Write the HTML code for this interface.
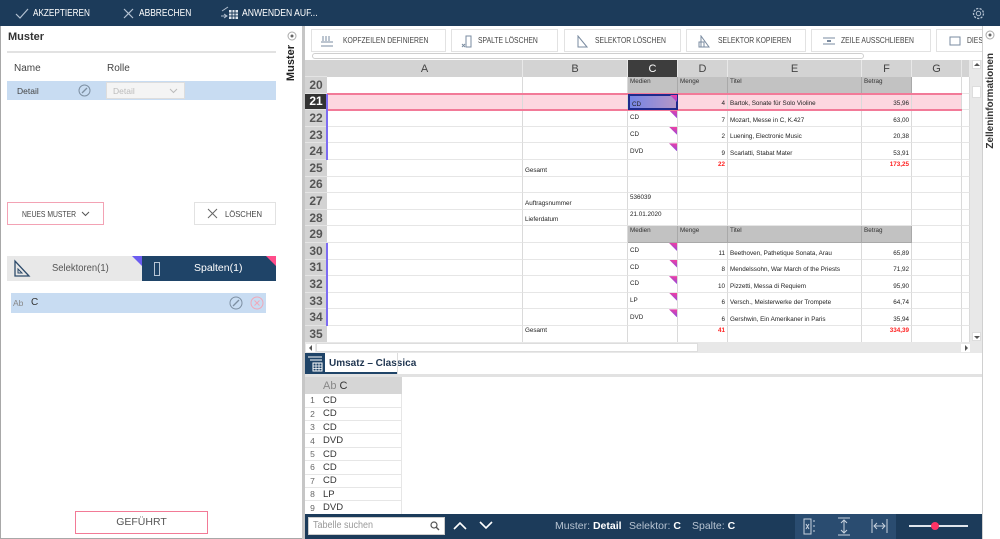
<!DOCTYPE html>
<html><head><meta charset="utf-8">
<style>
*{margin:0;padding:0;box-sizing:border-box}
body{width:1000px;height:539px;position:relative;overflow:hidden;background:#fff;font-family:"Liberation Sans",sans-serif;color:#333}
.a{position:absolute}
.sx{display:inline-block;transform-origin:0 50%;white-space:nowrap}
.tb{position:absolute;top:29px;height:23px;border:1px solid #e2e2e2;background:#fff;font-size:8px;color:#444;white-space:nowrap}
.tb span{position:absolute;top:6px;transform:scaleX(.85);transform-origin:0 50%}
.tb svg{position:absolute;top:5px}
.g{position:absolute;left:305px;top:60px;width:665px;height:282.6px;overflow:hidden;display:grid;grid-template-columns:22px 196px 105px 50px 50px 134px 50px 50px 8px;grid-template-rows:17px repeat(16,16.6px);background:#fff}
.g i{font-style:normal;position:relative;border-right:1px solid #dadada;border-bottom:1px solid #e6e6e6;font-size:6.3px;color:#222;padding:0 2px 2px 2px;display:flex;align-items:flex-end;overflow:hidden;white-space:nowrap}
.g i.n{background:#d3d3d3;font-size:12px;font-weight:bold;color:#555;justify-content:center;align-items:center;padding:0;border-right:none;border-bottom:1px solid #e4e4e4}
.g i.nd{background:#333;color:#fff}
.g i.h{background:#d3d3d3;font-size:11px;color:#444;justify-content:center;align-items:center;padding:0;border-right:1px solid #e8e8e8;border-bottom:none}
.g i.hc{background:#3d3d3d;color:#fff}
.g i.gh{background:#c2c2c2;align-items:flex-start;padding-top:1px;border-right:1px solid #a9a9a9;border-bottom:1px solid #a9a9a9;color:#333}
.g i.r{justify-content:flex-end}
.g i.m{align-items:center;padding-bottom:0}
.g i.t{align-items:flex-start;padding-top:1px}
.g i.red{color:#f22;font-weight:bold}
.g i.p{background:#fdd7e0}
.g i.tr::after{content:"";position:absolute;right:0;top:0;width:8px;height:8px;background:linear-gradient(200deg,#ff3d9a,#6b4ff2);clip-path:polygon(0 0,100% 0,100% 100%)}
.lt{position:absolute;left:305px;top:377px;width:97px;display:grid;grid-template-columns:15px 82px;grid-template-rows:17.3px repeat(9,13.4px)}
.lt i{font-style:normal;border-bottom:1px solid #e6e6e6;font-size:9.5px;color:#333;display:flex;align-items:center;padding-left:3px;border-right:1px solid #e6e6e6}
.lt i.x{justify-content:center;padding:0;color:#666;font-size:8.5px;border-right:none}
.lt i.hd{background:#d6d6d6;border:none}
</style></head><body>

<!-- top bar -->
<div class="a" style="left:0;top:0;width:1000px;height:26px;background:#1c3b5a"></div>
<svg class="a" style="left:15px;top:8px" width="14" height="11"><polyline points="1,6 5,10 13,1" fill="none" stroke="#b4c2d2" stroke-width="1.2"/></svg>
<div class="a" style="left:33px;top:7px;color:#fff;font-size:10.5px"><span class="sx" style="transform:scaleX(.78)">AKZEPTIEREN</span></div>
<svg class="a" style="left:123px;top:8px" width="11" height="11"><path d="M1,1L10,10M10,1L1,10" stroke="#b4c2d2" stroke-width="1.2"/></svg>
<div class="a" style="left:139px;top:7px;color:#fff;font-size:10.5px"><span class="sx" style="transform:scaleX(.8)">ABBRECHEN</span></div>
<svg class="a" style="left:220px;top:6px" width="20" height="14"><path d="M2,5L8,1M1,10h6M4,8l3,2l-3,2" fill="none" stroke="#b4c2d2" stroke-width="1"/><rect x="9" y="4" width="9" height="9" fill="#dfe6ee"/><path d="M9,7h9M9,10h9M12,4v9M15,4v9" stroke="#1c3b5a" stroke-width="1"/></svg>
<div class="a" style="left:242px;top:7px;color:#fff;font-size:10.5px"><span class="sx" style="transform:scaleX(.82)">ANWENDEN AUF...</span></div>
<svg class="a" style="left:971px;top:6px" width="15" height="15"><circle cx="7.5" cy="7.5" r="5" fill="none" stroke="#b4c2d2" stroke-width="1.3" stroke-dasharray="2.2 1.3"/><circle cx="7.5" cy="7.5" r="2.2" fill="none" stroke="#b4c2d2"/></svg>

<!-- frame borders -->
<div class="a" style="left:0;top:26px;width:1px;height:513px;background:#a8a8a8"></div>
<div class="a" style="left:0;top:538px;width:305px;height:1px;background:#a8a8a8"></div>
<div class="a" style="left:302px;top:26px;width:3px;height:513px;background:#c6c6c6"></div>

<!-- left panel -->
<div class="a" style="left:8px;top:31px;font-size:11px;font-weight:bold;color:#333">Muster</div>
<div class="a" style="left:7px;top:51px;width:269px;height:2px;background:#e2e2e2"></div>
<div class="a" style="left:14px;top:63px;font-size:10px;color:#444">Name</div>
<div class="a" style="left:107px;top:63px;font-size:10px;color:#444">Rolle</div>
<div class="a" style="left:7px;top:81px;width:269px;height:19px;background:#c8dcf2"></div>
<div class="a" style="left:17px;top:86px;font-size:8.5px;color:#444">Detail</div>
<svg class="a" style="left:78px;top:84px" width="13" height="13"><circle cx="6.5" cy="6.5" r="5.5" fill="none" stroke="#7d8fa2"/><path d="M4,9L9,4" stroke="#7d8fa2" stroke-width="1.3"/></svg>
<div class="a" style="left:106px;top:82px;width:79px;height:17px;background:#f4f4f4;border:1px solid #ddd"></div>
<div class="a" style="left:113px;top:86px;font-size:8.5px;color:#bbb">Detail</div>
<svg class="a" style="left:169px;top:88px" width="9" height="6"><polyline points="1,1 4.5,4.5 8,1" fill="none" stroke="#bbb"/></svg>

<div class="a" style="left:7px;top:202px;width:97px;height:23px;border:1px solid #f3a2b4"></div>
<div class="a" style="left:22px;top:209px;font-size:8.5px;color:#444"><span class="sx" style="transform:scaleX(.8)">NEUES MUSTER</span></div>
<svg class="a" style="left:81px;top:211px" width="9" height="6"><polyline points="1,1 4.5,4.5 8,1" fill="none" stroke="#555"/></svg>
<div class="a" style="left:194px;top:202px;width:82px;height:23px;border:1px solid #e2e2e2"></div>
<svg class="a" style="left:207px;top:208px" width="11" height="11"><path d="M1,1L10,10M10,1L1,10" stroke="#666" stroke-width="1"/></svg>
<div class="a" style="left:225px;top:209px;font-size:8.5px;color:#444"><span class="sx" style="transform:scaleX(.9)">LÖSCHEN</span></div>

<div class="a" style="left:7px;top:256px;width:135px;height:25px;background:#e8e8e8"></div>
<svg class="a" style="left:13px;top:259px" width="18" height="19"><path d="M2,2L2,17L16,17Z" fill="none" stroke="#2c4a6a" stroke-width="1.3"/><path d="M5,10L5,14L9,14Z" fill="none" stroke="#2c4a6a"/></svg>
<div class="a" style="left:52px;top:262px;font-size:10.5px;color:#555"><span class="sx" style="transform:scaleX(.9)">Selektoren(1)</span></div>
<div class="a" style="left:132px;top:256px;width:10px;height:10px;background:#6b5cf0;clip-path:polygon(0 0,100% 0,100% 100%)"></div>
<div class="a" style="left:142px;top:256px;width:134px;height:25px;background:#1f4468"></div>
<div class="a" style="left:154px;top:262px;width:6px;height:14px;border:1px solid #b8c6d6"></div>
<div class="a" style="left:194px;top:262px;font-size:10.5px;color:#fff">Spalten(1)</div>
<div class="a" style="left:266px;top:256px;width:10px;height:10px;background:#ff4d8a;clip-path:polygon(0 0,100% 0,100% 100%)"></div>

<div class="a" style="left:11px;top:293px;width:255px;height:20px;background:#c8dcf2"></div>
<div class="a" style="left:13px;top:298px;font-size:8.5px;color:#888">Ab</div>
<div class="a" style="left:31px;top:297px;font-size:10px;color:#333">C</div>
<svg class="a" style="left:229px;top:296px" width="14" height="14"><circle cx="7" cy="7" r="6" fill="none" stroke="#7d8fa2"/><path d="M4,10L10,4" stroke="#7d8fa2" stroke-width="1.3"/></svg>
<svg class="a" style="left:250px;top:296px" width="14" height="14"><circle cx="7" cy="7" r="6" fill="none" stroke="#f0a8b8"/><path d="M4.5,4.5L9.5,9.5M9.5,4.5L4.5,9.5" stroke="#f0a8b8"/></svg>

<div class="a" style="left:75px;top:511px;width:133px;height:23px;border:1px solid #f27a96"></div>
<div class="a" style="left:75px;top:516px;width:133px;text-align:center;font-size:10.5px;color:#555">GEFÜHRT</div>

<!-- Muster vertical strip -->
<svg class="a" style="left:287px;top:31px" width="10" height="10"><circle cx="5" cy="5" r="4" fill="none" stroke="#aaa"/><circle cx="5" cy="5" r="1.5" fill="#666"/></svg>
<div class="a" style="left:285px;top:45px;writing-mode:vertical-rl;transform:rotate(180deg);font-size:11px;font-weight:bold;color:#222">Muster</div>

<!-- right strip -->
<div class="a" style="left:982px;top:26px;width:1px;height:513px;background:#d0d0d0"></div>
<svg class="a" style="left:985px;top:30px" width="10" height="10"><circle cx="5" cy="5" r="4" fill="none" stroke="#aaa"/><circle cx="5" cy="5" r="1.5" fill="#666"/></svg>
<div class="a" style="left:985px;top:53px;writing-mode:vertical-rl;transform:rotate(180deg);font-size:10px;font-weight:bold;color:#333">Zelleninformationen</div>

<!-- toolbar -->
<div class="tb" style="left:311px;width:135px"><svg style="left:9px" width="12" height="12"><path d="M2,1v5M5,1v5M8,1v5M0,7h12M0,11h12" stroke="#7a8ba0"/></svg><span style="left:31px">KOPFZEILEN DEFINIEREN</span></div>
<div class="tb" style="left:451px;width:107px"><svg style="left:9px" width="12" height="13"><rect x="5" y="1" width="5" height="11" fill="none" stroke="#7a8ba0"/><path d="M1,9l3,3M4,9l-3,3" stroke="#7a8ba0"/></svg><span style="left:26px">SPALTE LÖSCHEN</span></div>
<div class="tb" style="left:564px;width:117px"><svg style="left:11px" width="12" height="13"><path d="M2,1L2,12L11,12Z" fill="none" stroke="#7a8ba0"/></svg><span style="left:30px">SELEKTOR LÖSCHEN</span></div>
<div class="tb" style="left:686px;width:120px"><svg style="left:11px" width="13" height="13"><path d="M3,1L3,12L11,12Z" fill="none" stroke="#7a8ba0"/><rect x="1" y="7" width="5" height="5" fill="none" stroke="#7a8ba0"/></svg><span style="left:31px">SELEKTOR KOPIEREN</span></div>
<div class="tb" style="left:811px;width:120px"><svg style="left:11px" width="12" height="12"><path d="M0,3h12M0,9h12" stroke="#7a8ba0"/><path d="M4,6h4" stroke="#7a8ba0" stroke-width="2"/></svg><span style="left:29px">ZEILE AUSSCHLIEBEN</span></div>
<div class="tb" style="left:936px;width:46px;border-right:none;overflow:hidden"><svg style="left:12px" width="12" height="12"><rect x="1" y="2" width="10" height="8" fill="none" stroke="#7a8ba0"/></svg><span style="left:30px">DIESE</span></div>
<div class="a" style="left:312px;top:53px;width:552px;height:6px;border:1px solid #cfcfcf;border-radius:3px"></div>

<!-- grid -->
<div class="g">
<i class="n"></i><i class="h">A</i><i class="h">B</i><i class="h hc">C</i><i class="h">D</i><i class="h">E</i><i class="h">F</i><i class="h">G</i><i class="h"></i>
<i class="n">20</i><i></i><i></i><i class="gh">Medien</i><i class="gh">Menge</i><i class="gh">Titel</i><i class="gh">Betrag</i><i></i><i></i>
<i class="n nd">21</i><i class="p"></i><i class="p"></i><i class="p m tr">CD</i><i class="p r">4</i><i class="p">Bartok, Sonate für Solo Violine</i><i class="p r">35,96</i><i class="p"></i><i></i>
<i class="n">22</i><i></i><i></i><i class="m tr">CD</i><i class="r">7</i><i>Mozart, Messe in C, K.427</i><i class="r">63,00</i><i></i><i></i>
<i class="n">23</i><i></i><i></i><i class="m tr">CD</i><i class="r">2</i><i>Luening, Electronic Music</i><i class="r">20,38</i><i></i><i></i>
<i class="n">24</i><i></i><i></i><i class="m tr">DVD</i><i class="r">9</i><i>Scarlatti, Stabat Mater</i><i class="r">53,91</i><i></i><i></i>
<i class="n">25</i><i></i><i>Gesamt</i><i></i><i class="r t red">22</i><i></i><i class="r t red">173,25</i><i></i><i></i>
<i class="n">26</i><i></i><i></i><i></i><i></i><i></i><i></i><i></i><i></i>
<i class="n">27</i><i></i><i>Auftragsnummer</i><i class="t">536039</i><i></i><i></i><i></i><i></i><i></i>
<i class="n">28</i><i></i><i>Lieferdatum</i><i class="t">21.01.2020</i><i></i><i></i><i></i><i></i><i></i>
<i class="n">29</i><i></i><i></i><i class="gh">Medien</i><i class="gh">Menge</i><i class="gh">Titel</i><i class="gh">Betrag</i><i></i><i></i>
<i class="n">30</i><i></i><i></i><i class="m tr">CD</i><i class="r">11</i><i>Beethoven, Pathetique Sonata, Arau</i><i class="r">65,89</i><i></i><i></i>
<i class="n">31</i><i></i><i></i><i class="m tr">CD</i><i class="r">8</i><i>Mendelssohn, War March of the Priests</i><i class="r">71,92</i><i></i><i></i>
<i class="n">32</i><i></i><i></i><i class="m tr">CD</i><i class="r">10</i><i>Pizzetti, Messa di Requiem</i><i class="r">95,90</i><i></i><i></i>
<i class="n">33</i><i></i><i></i><i class="m tr">LP</i><i class="r">6</i><i>Versch., Meisterwerke der Trompete</i><i class="r">64,74</i><i></i><i></i>
<i class="n">34</i><i></i><i></i><i class="m tr">DVD</i><i class="r">6</i><i>Gershwin, Ein Amerikaner in Paris</i><i class="r">35,94</i><i></i><i></i>
<i class="n">35</i><i></i><i class="t">Gesamt</i><i></i><i class="r t red">41</i><i></i><i class="r t red">334,39</i><i></i><i></i>
</div>
<!-- selection overlays -->
<div class="a" style="left:327px;top:92.6px;width:635px;height:18px;border-top:2px solid #f27a98;border-bottom:2px solid #f27a98"></div>
<div class="a" style="left:628px;top:93.6px;width:50px;height:16.6px;background:linear-gradient(90deg,#7585e6,#b596c6);border:2px solid #1e2a8c;font-size:6.3px;color:#222;padding:5px 0 0 2px">CD</div>
<div class="a" style="left:670px;top:95px;width:7px;height:7px;background:linear-gradient(200deg,#ff3d9a,#6b4ff2);clip-path:polygon(0 0,100% 0,100% 100%)"></div>
<div class="a" style="left:326px;top:93.6px;width:2px;height:66.4px;background:#7c6cf2"></div>
<div class="a" style="left:326px;top:243px;width:2px;height:83px;background:#7c6cf2"></div>

<!-- scrollbars -->
<div class="a" style="left:970px;top:60px;width:12px;height:293px;background:#e8e8e8"></div>
<div class="a" style="left:972px;top:60px;width:9px;height:9px;background:#fff;border:1px solid #ddd"></div>
<svg class="a" style="left:974px;top:62px" width="6" height="5"><path d="M0,4L3,1L6,4Z" fill="#555"/></svg>
<div class="a" style="left:972px;top:86px;width:9px;height:12px;background:#fff;border:1px solid #ddd"></div>
<div class="a" style="left:972px;top:332px;width:9px;height:9px;background:#fff;border:1px solid #ddd"></div>
<svg class="a" style="left:974px;top:335px" width="6" height="5"><path d="M0,1L3,4L6,1Z" fill="#555"/></svg>
<div class="a" style="left:305px;top:342px;width:665px;height:11px;background:#e8e8e8"></div>
<div class="a" style="left:306px;top:344px;width:9px;height:8px;background:#fff"></div>
<svg class="a" style="left:308px;top:345px" width="5" height="6"><path d="M4,0L1,3L4,6Z" fill="#555"/></svg>
<div class="a" style="left:316px;top:343px;width:382px;height:9px;background:#fff;border:1px solid #ddd"></div>
<div class="a" style="left:961px;top:344px;width:9px;height:8px;background:#fff"></div>
<svg class="a" style="left:964px;top:345px" width="5" height="6"><path d="M1,0L4,3L1,6Z" fill="#555"/></svg>

<!-- sheet tab -->
<div class="a" style="left:305px;top:374px;width:677px;height:3px;background:#e2e2e2"></div>
<div class="a" style="left:305px;top:353px;width:20px;height:21px;background:#1f4468"></div>
<svg class="a" style="left:307px;top:356px" width="16" height="16"><path d="M1,1h14M3,4h12" stroke="#fff"/><rect x="6" y="7" width="9" height="8" fill="none" stroke="#fff"/><path d="M6,10h9M6,12.5h9M9,7v8M12,7v8" stroke="#fff" stroke-width=".8"/></svg>
<div class="a" style="left:329px;top:358px;font-size:10px;font-weight:bold;color:#1f3550">Umsatz – Classica</div>
<div class="a" style="left:325px;top:372px;width:72px;height:2px;background:#1f4468"></div>
<div class="a" style="left:397px;top:353px;width:1px;height:21px;background:#ddd"></div>

<!-- lower table -->
<div class="lt">
<i class="x hd"></i><i class="hd" style="font-size:11px;color:#888">Ab&nbsp;<span style="color:#333">C</span></i>
<i class="x">1</i><i>CD</i>
<i class="x">2</i><i>CD</i>
<i class="x">3</i><i>CD</i>
<i class="x">4</i><i>DVD</i>
<i class="x">5</i><i>CD</i>
<i class="x">6</i><i>CD</i>
<i class="x">7</i><i>CD</i>
<i class="x">8</i><i>LP</i>
<i class="x">9</i><i>DVD</i>
</div>

<!-- bottom bar -->
<div class="a" style="left:305px;top:514px;width:677px;height:25px;background:#1c3b5a"></div>
<div class="a" style="left:308px;top:517px;width:137px;height:18px;background:#fff;border:1px solid #ccc"></div>
<div class="a" style="left:313px;top:520px;font-size:10px;color:#999"><span class="sx" style="transform:scaleX(.9)">Tabelle suchen</span></div>
<svg class="a" style="left:430px;top:521px" width="10" height="10"><circle cx="4" cy="4" r="3" fill="none" stroke="#555" stroke-width="1.2"/><path d="M6,6L9,9" stroke="#555" stroke-width="1.4"/></svg>
<svg class="a" style="left:453px;top:521px" width="14" height="9"><polyline points="1,8 7,2 13,8" fill="none" stroke="#fff" stroke-width="1.6"/></svg>
<svg class="a" style="left:479px;top:521px" width="14" height="9"><polyline points="1,1 7,7 13,1" fill="none" stroke="#fff" stroke-width="1.6"/></svg>
<div class="a" style="left:555px;top:520px;font-size:10.5px;color:#b8c4d2;white-space:nowrap">Muster: <b style="color:#fff">Detail</b></div>
<div class="a" style="left:629px;top:520px;font-size:10.5px;color:#b8c4d2;white-space:nowrap">Selektor: <b style="color:#fff">C</b></div>
<div class="a" style="left:692px;top:520px;font-size:10.5px;color:#b8c4d2;white-space:nowrap">Spalte: <b style="color:#fff">C</b></div>
<div class="a" style="left:795px;top:514px;width:101px;height:25px;background:#2a4c70"></div>
<svg class="a" style="left:801px;top:518px" width="16" height="17"><path d="M3,1h7v15h-7z" fill="none" stroke="#c8d2de"/><path d="M5,6l3,5M8,6l-3,5" stroke="#c8d2de"/><path d="M13,2v2M13,7v2M13,12v2" stroke="#c8d2de"/></svg>
<svg class="a" style="left:837px;top:517px" width="14" height="19"><path d="M1,1h12M1,18h12M7,3v13M4,6l3,-3l3,3M4,13l3,3l3,-3" fill="none" stroke="#c8d2de"/></svg>
<svg class="a" style="left:871px;top:518px" width="17" height="16"><path d="M1,1v14M16,1v14M3,8h11M6,5l-3,3l3,3M11,5l3,3l-3,3" fill="none" stroke="#c8d2de"/></svg>
<div class="a" style="left:909px;top:525px;width:59px;height:2px;background:#dfe5ec"></div>
<div class="a" style="left:931px;top:522px;width:8px;height:8px;border-radius:50%;background:#ff3366"></div>
</body></html>
